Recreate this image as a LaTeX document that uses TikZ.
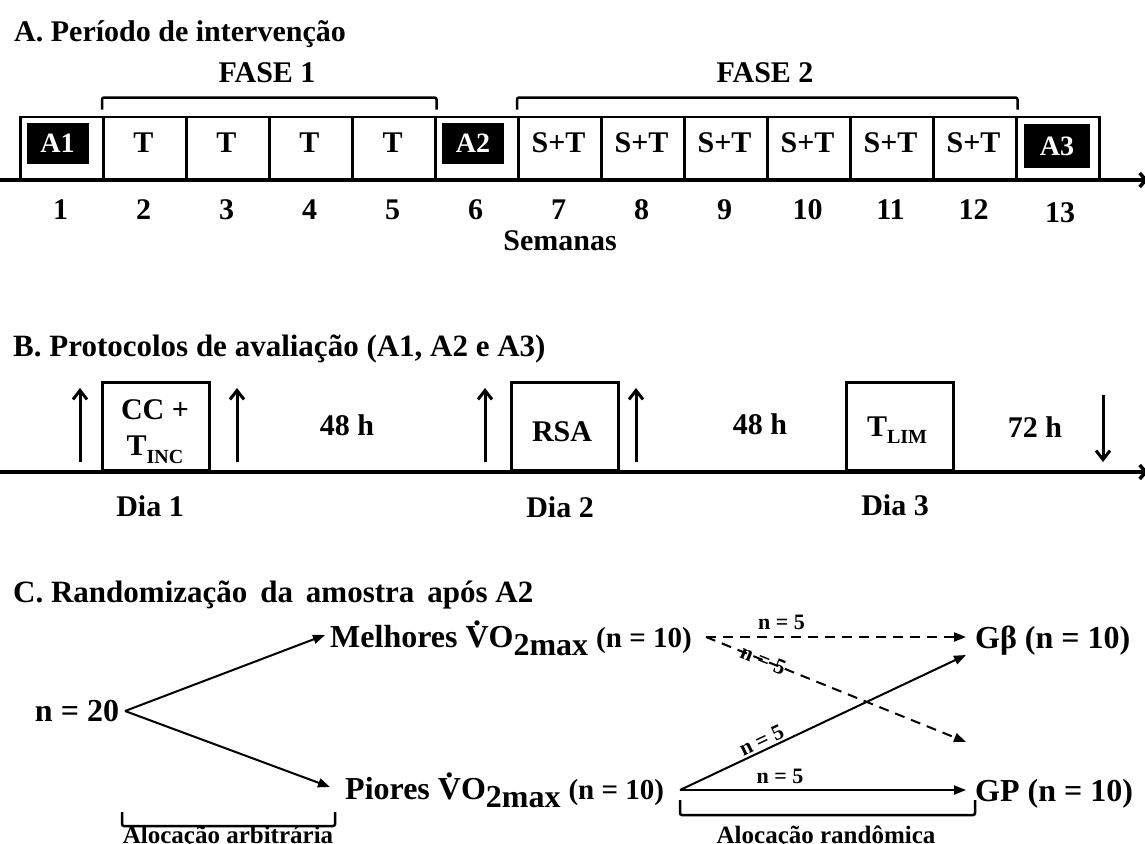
\documentclass[tikz,border=0pt]{standalone}
\usepackage{fontspec}
\setmainfont{Liberation Serif}
\usetikzlibrary{arrows.meta,calc}
\newcommand\fs[1]{\fontsize{#1}{#1}\selectfont}
\newcommand\Vdt{\leavevmode\hbox{\ooalign{V\cr\hidewidth\raisebox{0.66em}{.}\hidewidth\cr}}}
\begin{document}
\begin{tikzpicture}[x=1pt,y=-1pt,
  txt/.style={font=\fs{30}\bfseries, inner sep=0pt},
  ctxt/.style={font=\fs{32}\bfseries, inner sep=0pt},
  small/.style={font=\fs{22}\bfseries, inner sep=1pt},
  wk/.style={draw, line width=2.5pt, minimum width=83pt, minimum height=62pt, inner sep=0pt, anchor=south west},
  blk/.style={fill=black, text=white, font=\fs{28}\bfseries, minimum width=62pt, minimum height=41pt, inner sep=0pt},
  axisline/.style={line width=3.5pt, -{Straight Barb[length=6pt,width=14pt]}},
  brk/.style={line width=2.5pt, rounded corners=2pt},
  uparrow/.style={line width=3pt, -{Straight Barb[length=9pt,width=14pt]}},
  con/.style={line width=2pt, -{Triangle[length=12pt,width=9pt]}},
  pbox/.style={draw, line width=3pt, minimum width=107pt, minimum height=88pt, inner sep=0pt, anchor=south west}]
\useasboundingbox (0,0) rectangle (1145,843);

% ---------- A ----------
\node[txt, anchor=base west] (ta) at (14,42) {A. Período de intervenção};
\foreach \i in {1,...,13}{
  \node[wk] (w\i) at ({19+83*(\i-1)},180) {};
}
\node[blk] (ba1) at (57.5,143) {A1};
\node[blk] (ba2) at (473,143) {A2};
\node[blk, minimum width=66pt, minimum height=44pt] (ba3) at (1057,146) {A3};
\foreach \i in {2,...,5}{
  \node[txt] (lt\i) at ({19+83*(\i-1)+41.5},143) {T};
}
\foreach \i in {7,...,12}{
  \node[txt] (lt\i) at ({19+83*(\i-1)+41.5},143) {S+T};
}
\coordinate (ax0) at (0,180);
\coordinate (ax1) at (1148,180);
\draw[axisline] (ax0) -- (ax1);
\foreach \i in {1,...,12}{
  \node[txt] (nw\i) at ({19+83*(\i-1)+41.5},210) {\i};
}
\node[txt] (nw13) at (1060,213) {13};
\node[txt] (sem) at (560,241) {Semanas};
\node[txt] (f1) at (267,73) {FASE 1};
\node[txt] (f2) at (765,73) {FASE 2};
\draw[brk] ($(w2.north west)+(0,-6)$) -- ($(w2.north west)+(0,-18)$) -- ($(w5.north east)+(0,-18)$) -- ($(w5.north east)+(0,-6)$);
\draw[brk] ($(w7.north west)+(0,-6)$) -- ($(w7.north west)+(0,-18)$) -- ($(w12.north east)+(0,-18)$) -- ($(w12.north east)+(0,-6)$);

% ---------- B ----------
\node[txt, anchor=base west, font=\fs{31}\bfseries] (tb) at (13,356) {B. Protocolos de avaliação (A1, A2 e A3)};
\node[pbox] (cc) at (101,472) {};
\node[pbox] (rsa) at (510,472) {};
\node[pbox] (tlim) at (845,472) {};
\node[txt] (cct) at (155,410) {CC +};
\node[txt] (tinc) at (155,450) {T\raisebox{-0.25em}{\fs{20}INC}};
\node[txt] (rsat) at (562,432) {RSA};
\node[txt] (tlimt) at (897,430) {T\raisebox{-0.25em}{\fs{20}LIM}};
\node[txt] (h1) at (347,425) {48 h};
\node[txt] (h2) at (760,424) {48 h};
\node[txt] (h3) at (1035,427) {72 h};
\foreach \x [count=\k] in {80,237,485,636}{
  \coordinate (ua\k) at (\x,462);
  \coordinate (ub\k) at (\x,388);
  \draw[uparrow] (ua\k) -- (ub\k);
}
\coordinate (da) at (1103,395);
\coordinate (db) at (1103,462);
\draw[uparrow] (da) -- (db);
\coordinate (bx0) at (0,472);
\coordinate (bx1) at (1148,472);
\draw[axisline] (bx0) -- (bx1);
\node[txt] (d1) at (150,506) {Dia 1};
\node[txt] (d2) at (560,507) {Dia 2};
\node[txt] (d3) at (895,505) {Dia 3};

% ---------- C ----------
\node[txt, anchor=base west, font=\fs{31}\bfseries] (tc) at (13,602) {C. Randomização\, da\, amostra\, após A2};
\node[ctxt] (n20) at (77,711) {n = 20};
\coordinate (sp) at (125,711);
\node[ctxt, anchor=base west] (mel) at (330,647) {Melhores \Vdt O\raisebox{-0.28em}{2max} {\fs{29}(n = 10)}};
\node[ctxt, anchor=base west] (pio) at (345,799) {Piores \Vdt O\raisebox{-0.28em}{2max} {\fs{29}(n = 10)}};
\node[ctxt, anchor=base west] (gb) at (975,648) {Gβ (n = 10)};
\node[ctxt, anchor=base west] (gp) at (975,801) {GP (n = 10)};
\coordinate (melA) at (325,635);
\coordinate (pioA) at (330,787);
\draw[con] (sp) -- (melA);
\draw[con] (sp) -- (pioA);
\coordinate (melE) at (706,637);
\coordinate (pioE) at (680,790);
\coordinate (gbA) at (966,637);
\coordinate (gbB) at (966,655);
\coordinate (gpA) at (966,742);
\coordinate (gpB) at (966,790);
\draw[con, dash pattern=on 10pt off 7pt] (melE) -- node[small, pos=0.29, above=5pt] (l1) {n = 5} (gbA);
\draw[con, dash pattern=on 10pt off 7pt] (melE) -- node[small, pos=0.22, sloped] (l2) {n = 5} (gpA);
\draw[con] (pioE) -- node[small, pos=0.3, sloped, above=1pt] (l3) {n = 5} (gbB);
\draw[con] (pioE) -- node[small, pos=0.35, above=4pt] (l4) {n = 5} (gpB);
\draw[brk] (122,812) -- (122,826) -- (335,826) -- (335,812);
\draw[brk] (680,800) -- (680,815) -- (975,815) -- (975,800);
\node[font=\fs{25}\bfseries, inner sep=0pt] (al1) at (228,837) {Alocação arbitrária};
\node[font=\fs{25}\bfseries, inner sep=0pt] (al2) at (826,837) {Alocação randômica};
\end{tikzpicture}
\end{document}
